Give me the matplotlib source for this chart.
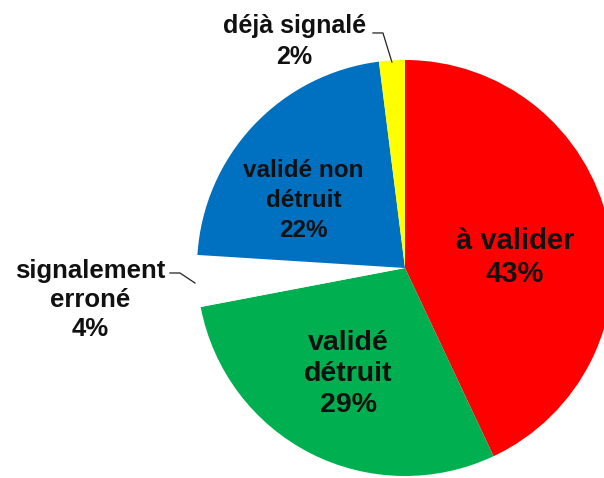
import matplotlib.pyplot as plt

# slice data, clockwise from 12 o'clock
names = ["à valider", "validé\ndétruit", "signalement\nerroné", "validé non\ndétruit", "déjà signalé"]
shares = [43, 29, 4, 22, 2]
colors = ["#FF0000", "#00B050", "#FFFFFF", "#0070C0", "#FFFF00"]

plt.rcParams["font.family"] = ["Liberation Sans", "DejaVu Sans"]

fig = plt.figure(figsize=(6.04, 4.78), dpi=100)
ax = fig.add_axes([0, 0, 1, 1])
ax.pie(shares, colors=colors, startangle=90, counterclock=False, radius=1.0,
       wedgeprops=dict(linewidth=0))

# axes window so the pie sits right of centre and runs off the right edge
r = 208.0
ax.set_xlim(-405 / r, (604 - 405) / r)
ax.set_ylim(-(478 - 268) / r, 268 / r)
ax.set_aspect("equal")
ax.axis("off")

labels = [f"{n}\n{v}%" for n, v in zip(names, shares)]
kw = dict(ha="center", va="center", fontweight="bold", color="#111111")

ax.text(0.529, 0.05, labels[0], fontsize=21, linespacing=1.2, **kw)
ax.text(-0.272, -0.51, labels[1], fontsize=20.5, linespacing=1.27, **kw)
ax.text(-1.514, -0.154, labels[2], fontsize=18.5, linespacing=1.27, **kw)
ax.text(-0.488, 0.325, labels[3], fontsize=17.5, linespacing=1.38, **kw)
ax.text(-0.531, 1.09, labels[4], fontsize=18, linespacing=1.35, **kw)

# leader lines for the small slices
ax.plot([-1.13, -1.082, -1.01], [-0.024, -0.024, -0.072], color="#222222", lw=0.9)
ax.plot([-0.154, -0.106, -0.063], [1.13, 1.13, 0.99], color="#222222", lw=0.9)

fig.savefig("out.png", dpi=100)
